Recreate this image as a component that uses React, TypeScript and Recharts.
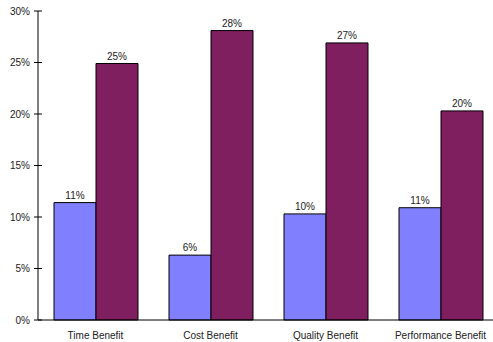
import { BarChart, Bar, XAxis, YAxis, LabelList } from "recharts";

const categories = [
  "Time Benefit",
  "Cost Benefit",
  "Quality Benefit",
  "Performance Benefit",
];
const lowSeries = [11.4, 6.3, 10.3, 10.9];
const highSeries = [24.9, 28.1, 26.9, 20.3];
const yTicks = [0, 5, 10, 15, 20, 25, 30];

const data = categories.map((name, i) => ({
  name,
  low: lowSeries[i],
  high: highSeries[i],
}));

const FONT = "'Liberation Sans', Arial, sans-serif";
const AXIS_X = 38;

function YTick(props: any) {
  const { y, payload } = props;
  return (
    <g>
      <line x1={AXIS_X - 4} x2={AXIS_X + 4} y1={y} y2={y} stroke="#000" />
      <text
        x={AXIS_X - 8}
        y={y}
        textAnchor="end"
        dominantBaseline="central"
        fontSize={10}
        fontFamily={FONT}
        fill="#222"
      >
        {payload.value}%
      </text>
    </g>
  );
}

const pct = (v: any) => `${Math.round(Number(v))}%`;

export default function App() {
  return (
    <div
      style={{
        position: "fixed",
        left: 0,
        top: 0,
        width: 493,
        height: 342,
        overflow: "hidden",
        background: "#fff",
      }}
    >
      <BarChart
        width={498}
        height={342}
        data={data}
        margin={{ top: 11, right: 0, bottom: 0, left: 0 }}
        barGap={0}
        barSize={42}
      >
        <XAxis
          dataKey="name"
          height={22}
          tickLine={false}
          axisLine={{ stroke: "#000" }}
          tickMargin={6}
          tick={{ fontSize: 10, fontFamily: FONT, fill: "#222" }}
        />
        <YAxis
          width={AXIS_X}
          domain={[0, 30]}
          ticks={yTicks}
          tickLine={false}
          axisLine={{ stroke: "#000" }}
          tick={<YTick />}
        />
        <Bar
          dataKey="low"
          fill="#8080ff"
          stroke="#000"
          strokeWidth={1}
          isAnimationActive={false}
        >
          <LabelList
            dataKey="low"
            position="top"
            offset={4}
            formatter={pct}
            style={{ fontSize: 10, fontFamily: FONT, fill: "#222" }}
          />
        </Bar>
        <Bar
          dataKey="high"
          fill="#7f1f5f"
          stroke="#000"
          strokeWidth={1}
          isAnimationActive={false}
        >
          <LabelList
            dataKey="high"
            position="top"
            offset={4}
            formatter={pct}
            style={{ fontSize: 10, fontFamily: FONT, fill: "#222" }}
          />
        </Bar>
      </BarChart>
    </div>
  );
}
